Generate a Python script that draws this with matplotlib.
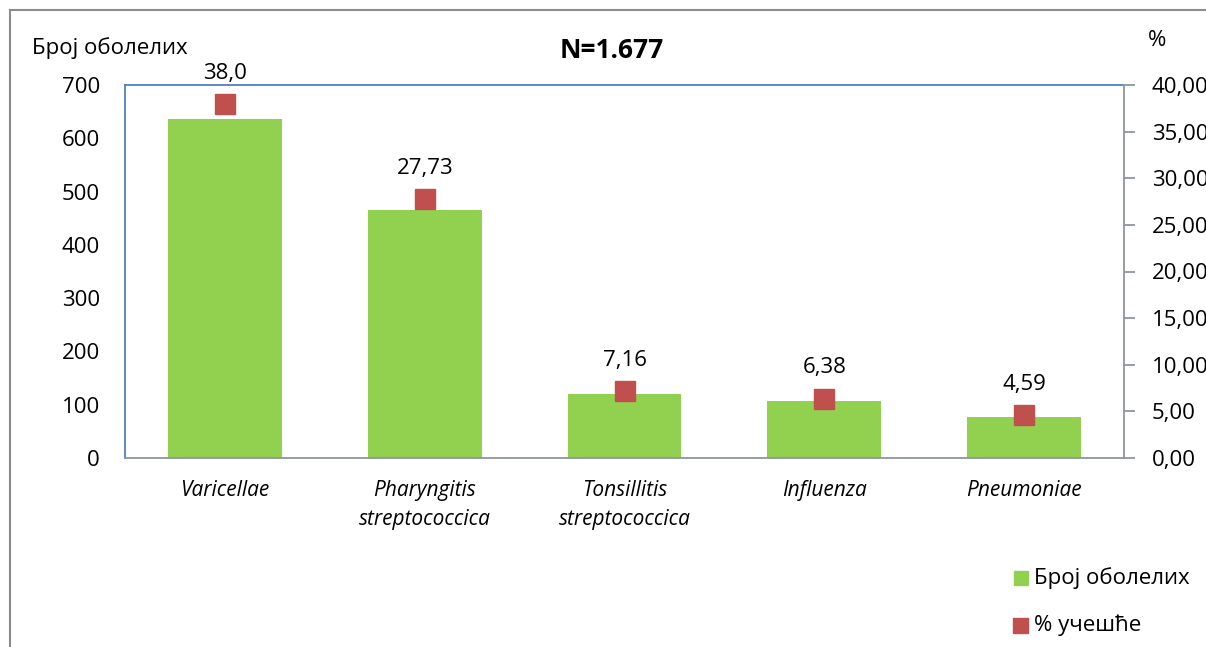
import matplotlib
matplotlib.use("Agg")
import matplotlib.pyplot as plt
from matplotlib.patches import Rectangle
from matplotlib.lines import Line2D

categories = ["Varicellae", "Pharyngitis\nstreptococcica", "Tonsillitis\nstreptococcica", "Influenza", "Pneumoniae"]
counts = [637, 465, 120, 107, 77]
percents = [38.0, 27.73, 7.16, 6.38, 4.59]
percent_labels = ["38,0", "27,73", "7,16", "6,38", "4,59"]
left_ticks = [0, 100, 200, 300, 400, 500, 600, 700]
right_ticks = [0, 5, 10, 15, 20, 25, 30, 35, 40]
right_tick_labels = ["0,00", "5,00", "10,00", "15,00", "20,00", "25,00", "30,00", "35,00", "40,00"]

plt.rcParams['font.family'] = ['Open Sans', 'DejaVu Sans']
GREEN = "#92D050"
RED = "#C0504D"
FS = 16

fig = plt.figure(figsize=(12.06, 6.47), dpi=100)
ax = fig.add_axes([125/1206, 1-458/647, (1124-125)/1206, (458-85)/647])
x = list(range(len(categories)))
ax.bar(x, counts, width=0.57, color=GREEN, zorder=2)
ax.set_xlim(-0.5, len(categories)-0.5)
ax.set_ylim(0, 700)
ax.set_yticks(left_ticks)
ax.set_yticklabels([str(t) for t in left_ticks], fontsize=FS)
ax.tick_params(axis='y', length=0, pad=18)
ax.set_xticks(x)
ax.set_xticklabels(categories, fontsize=15, style='italic', linespacing=1.5)
ax.tick_params(axis='x', length=0, pad=16)
for s in ['left', 'top']:
    ax.spines[s].set_color("#4F81BD")
ax.spines['bottom'].set_color("#8C96A0")
ax.spines['right'].set_visible(False)
for s in ax.spines.values():
    s.set_linewidth(1.3)

ax2 = ax.twinx()
ax2.set_ylim(0, 40)
ax2.set_yticks(right_ticks)
ax2.set_yticklabels(right_tick_labels, fontsize=FS)
ax2.tick_params(axis='y', length=8, width=1.3, color="#8C96A0", pad=12)
for s in ['left', 'top', 'bottom']:
    ax2.spines[s].set_visible(False)
ax2.spines['right'].set_color("#8C96A0")
ax2.spines['right'].set_linewidth(1.3)
ax2.plot(x, percents, linestyle='none', marker='s', markersize=15, color=RED, zorder=3)
for xi, p, lab in zip(x, percents, percent_labels):
    ax2.annotate(lab, (xi, p), xytext=(0, 22), textcoords='offset points',
                 ha='center', va='center', fontsize=FS)

fig.text(612/1206, 1-50/647, "N=1.677", fontsize=19, fontweight='bold', ha='center', va='center')
fig.text(110/1206, 1-48/647, "Број оболелих", fontsize=FS, ha='center', va='center')
fig.text(1157/1206, 1-40/647, "%", fontsize=FS, ha='center', va='center')

# outer frame (left and top edges visible)
fig.add_artist(Line2D([10/1206, 10/1206], [0, 1-10/647], transform=fig.transFigure, color="#8C8C8C", lw=1.5))
fig.add_artist(Line2D([10/1206, 1], [1-10/647, 1-10/647], transform=fig.transFigure, color="#8C8C8C", lw=1.5))

# legend
fig.add_artist(Rectangle((1014/1206, 1-585/647), 14/1206, 14/647, transform=fig.transFigure, color=GREEN))
fig.text(1034/1206, 1-578/647, "Број оболелих", fontsize=FS, ha='left', va='center')
fig.add_artist(Rectangle((1013/1206, 1-633/647), 15/1206, 15/647, transform=fig.transFigure, color=RED))
fig.text(1034/1206, 1-625/647, "% учешће", fontsize=FS, ha='left', va='center')

fig.savefig("out.png", dpi=100)
